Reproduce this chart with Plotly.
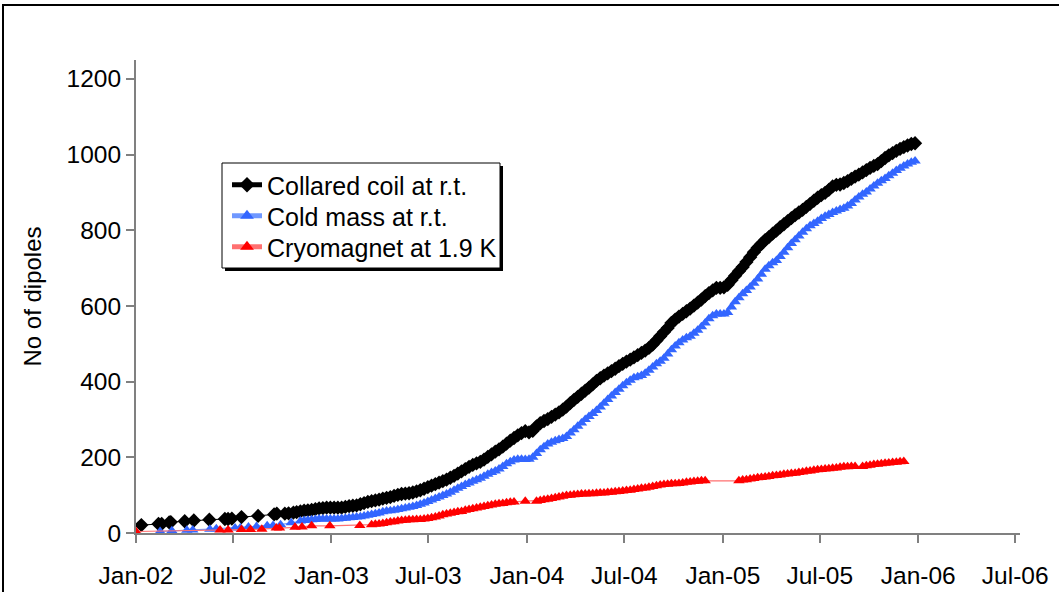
import pandas as pd
import plotly.graph_objects as go

# dipole production progress
# early, sparse entries (explicit dates), then weekly entries
coil_early_dates = ["2002-01-11", "2002-02-12", "2002-02-18", "2002-03-04", "2002-03-07",
                    "2002-04-02", "2002-04-19", "2002-05-18", "2002-06-16", "2002-06-22",
                    "2002-06-29", "2002-07-17", "2002-08-17", "2002-09-16", "2002-09-21",
                    "2002-10-06", "2002-10-13", "2002-10-22", "2002-10-28"]
coil_early = [21, 24, 24, 28, 29, 31, 33, 35, 37, 37, 38, 42, 45, 49, 51, 51, 52, 54, 55]
coil_weekly_start = "2002-11-04"
coil_weekly = [
    57, 59, 60, 61, 63, 65, 66, 67, 67, 67,
    67, 67, 69, 71, 72, 73, 76, 79, 82, 84,
    86, 88, 91, 93, 95, 98, 101, 103, 104, 105,
    107, 110, 113, 117, 121, 125, 129, 133, 137, 141,
    146, 151, 157, 163, 169, 175, 180, 184, 188, 194,
    201, 208, 215, 221, 228, 236, 244, 251, 258, 264,
    269, 266, 270, 282, 290, 296, 301, 307, 313, 319,
    326, 334, 343, 352, 360, 368, 376, 384, 393, 402,
    409, 416, 422, 428, 434, 441, 447, 453, 458, 464,
    470, 476, 482, 489, 498, 509, 520, 531, 542, 555,
    564, 572, 579, 586, 593, 601, 609, 617, 626, 634,
    641, 648, 648, 649, 656, 668, 680, 692, 703, 716,
    729, 742, 754, 764, 774, 782, 791, 799, 808, 816,
    824, 832, 840, 847, 854, 862, 870, 878, 886, 893,
    899, 907, 916, 920, 921, 925, 930, 936, 942, 947,
    953, 959, 965, 970, 975, 983, 991, 998, 1004, 1010,
    1015, 1020, 1024, 1028, 1030]

cold_early_dates = ["2002-02-15", "2002-03-09", "2002-04-06", "2002-04-17", "2002-05-19",
                    "2002-05-31", "2002-07-05", "2002-07-15", "2002-07-30", "2002-08-14",
                    "2002-09-03", "2002-09-14", "2002-09-28", "2002-10-18"]
cold_early = [4, 6, 7, 8, 10, 11, 13, 14, 16, 17, 19, 20, 22, 27]
cold_weekly_start = "2002-11-04"
cold_weekly = [
    32, 33, 34, 35, 36, 37, 37, 37, 37, 37,
    37, 38, 39, 40, 41, 42, 43, 45, 47, 49,
    51, 53, 56, 58, 59, 60, 62, 64, 66, 68,
    70, 73, 76, 79, 83, 87, 91, 95, 99, 103,
    108, 113, 118, 123, 128, 132, 137, 141, 145, 150,
    155, 160, 164, 169, 176, 183, 188, 193, 195, 195,
    194, 195, 200, 210, 220, 228, 235, 240, 244, 247,
    250, 255, 264, 273, 282, 291, 300, 308, 316, 324,
    333, 343, 353, 362, 371, 380, 389, 397, 404, 410,
    413, 416, 422, 430, 439, 447, 454, 462, 473, 484,
    494, 503, 510, 516, 520, 528, 536, 545, 555, 566,
    574, 579, 579, 579, 583, 597, 611, 622, 632, 641,
    650, 660, 671, 684, 697, 706, 714, 720, 731, 742,
    754, 765, 775, 785, 795, 804, 812, 818, 824, 831,
    837, 842, 847, 851, 855, 858, 864, 871, 880, 888,
    895, 901, 909, 917, 924, 931, 937, 944, 951, 958,
    964, 970, 975, 980, 983]

cryo_early_dates = ["2002-01-01", "2002-06-07", "2002-06-22", "2002-07-17", "2002-08-03",
                    "2002-08-24", "2002-09-20", "2002-09-26", "2002-10-25", "2002-11-07",
                    "2002-11-25", "2002-12-29", "2003-02-23", "2003-03-17"]
cryo_early = [4, 8, 8, 9, 9, 10, 13, 13, 15, 16, 19, 19, 20, 22]
cryo_weekly_start = "2003-03-24"
cryo_weekly = [
    23, 24, 25, 27, 29, 30, 32, 33, 34, 35,
    35, 36, 36, 37, 38, 40, 42, 45, 48, 50,
    52, 54, 56, 57, 60, 62, 64, 66, 68, 70,
    72, 74, 76, 77, 78, 80, 81, 82, None, None,
    84, None, None, 84, 86, 88, 89, 91, 93, 95,
    97, 99, 100, 101, 102, 103, 103, 104, 104, 105,
    106, 106, 107, 108, 109, 110, 111, 112, 113, 115,
    116, 118, 119, 121, 123, 125, 127, 128, 129, 130,
    130, 131, 132, 134, 135, 136, 137, 138, 138, None,
    None, None, None, None, None, None, None, 138, 140, 141,
    143, 144, 146, 147, 148, 149, 151, 152, 153, 155,
    156, 157, 158, 160, 161, 163, 164, 166, 167, 168,
    169, 170, 171, 172, 174, 175, 175, 176, 176, None,
    176, 178, 179, 181, 182, 183, 184, 185, 186, 187,
    188, 189]


def build(early_dates, early_vals, start, weekly_vals):
    x = list(pd.to_datetime(early_dates)) + list(
        pd.date_range(start, periods=len(weekly_vals), freq="7D"))
    return x, early_vals + weekly_vals


FONT = "Arial, Liberation Sans, sans-serif"

fig = go.Figure()

x, y = build(coil_early_dates, coil_early, coil_weekly_start, coil_weekly)
fig.add_trace(go.Scatter(x=x, y=y, name="Collared coil at r.t.", mode="lines+markers",
                         line=dict(color="black", width=1),
                         marker=dict(symbol="diamond", size=11, color="black"),
                         connectgaps=True, legend="legend"))

x, y = build(cold_early_dates, cold_early, cold_weekly_start, cold_weekly)
fig.add_trace(go.Scatter(x=x, y=y, name="Cold mass at r.t.", mode="lines+markers",
                         line=dict(color="#6f98ff", width=1.2),
                         marker=dict(symbol="triangle-up", size=10, color="#3366ff"),
                         connectgaps=True, legend="legend2"))

x, y = build(cryo_early_dates, cryo_early, cryo_weekly_start, cryo_weekly)
fig.add_trace(go.Scatter(x=x, y=y, name="Cryomagnet at 1.9 K", mode="lines+markers",
                         line=dict(color="#ff7070", width=1.2),
                         marker=dict(symbol="triangle-up", size=10, color="#ff0000"),
                         connectgaps=True, legend="legend3"))


def px_x(p):
    return (p - 136) / 884


def px_y(p):
    return (533 - p) / 473


# legend box with drop shadow, and outer chart frame
fig.add_shape(type="rect", xref="paper", yref="paper",
              x0=px_x(225), x1=px_x(503), y0=px_y(271), y1=px_y(166),
              fillcolor="black", line=dict(width=0), layer="above")
fig.add_shape(type="rect", xref="paper", yref="paper",
              x0=px_x(222), x1=px_x(500), y0=px_y(268), y1=px_y(163),
              fillcolor="white", line=dict(color="black", width=1), layer="above")
fig.add_shape(type="rect", xref="paper", yref="paper",
              x0=px_x(3), x1=1.2, y0=-0.3, y1=px_y(5),
              line=dict(color="black", width=2), layer="above")

leg = dict(xanchor="left", yanchor="middle", bgcolor="rgba(0,0,0,0)",
           borderwidth=0, font=dict(size=25), itemsizing="constant")

fig.update_layout(
    width=1059, height=592,
    margin=dict(l=136, r=39, t=60, b=59),
    paper_bgcolor="white", plot_bgcolor="white",
    font=dict(family=FONT, size=24, color="black"),
    showlegend=True,
    legend=dict(leg, x=px_x(227), y=px_y(185)),
    legend2=dict(leg, x=px_x(227), y=px_y(216)),
    legend3=dict(leg, x=px_x(227), y=px_y(247)),
    xaxis=dict(type="date", range=["2002-01-01", "2006-07-10"], automargin=False,
               tick0="2002-01-01", dtick="M6", tickformat="%b-%y",
               showgrid=False, zeroline=False,
               showline=True, linecolor="#808080", linewidth=2,
               ticks="outside", ticklen=8, tickwidth=1.5, tickcolor="#808080",
               ticklabelstandoff=12, tickfont=dict(size=24.5)),
    yaxis=dict(range=[0, 1250], tick0=0, dtick=200, automargin=False,
               showgrid=False, zeroline=False,
               showline=True, linecolor="#808080", linewidth=2,
               ticks="outside", ticklen=8, tickwidth=1.5, tickcolor="#808080",
               tickfont=dict(size=24.5),
               title=dict(text="No of dipoles", font=dict(size=24), standoff=18)),
)

fig.write_html("out.html", config={"displayModeBar": False},
               post_script="document.body.style.margin='0px';")
